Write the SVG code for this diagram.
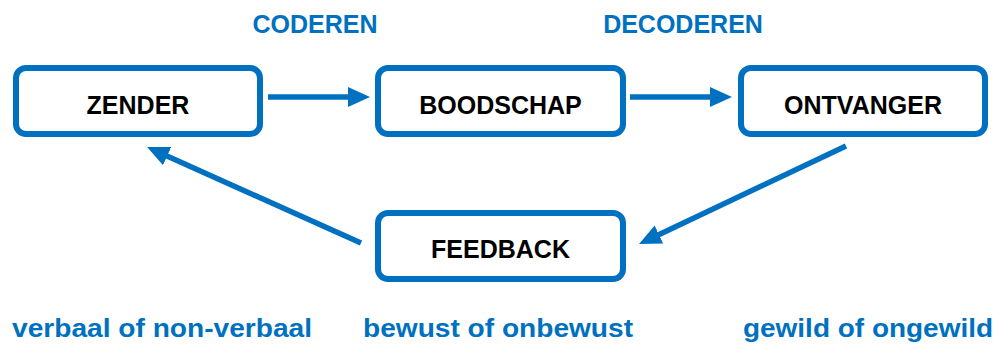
<svg xmlns="http://www.w3.org/2000/svg" width="997" height="345" viewBox="0 0 997 345">
<style>
.box{fill:#fff;stroke:#0070C0;stroke-width:6}
.nt{font-family:"Liberation Sans",Arial,sans-serif;font-weight:bold;font-size:25px;fill:#000;text-anchor:middle}
.lb{font-family:"Liberation Sans",Arial,sans-serif;font-weight:bold;font-size:25px;fill:#0070C0}
.cn{stroke:#0070C0;stroke-width:5.5;fill:none;marker-end:url(#ah)}
</style>
<defs>
<marker id="ah" markerUnits="userSpaceOnUse" markerWidth="24" markerHeight="22" refX="2" refY="11" orient="auto" viewBox="0 0 24 22">
<path d="M0,1 L22,11 L0,21 z" fill="#0070C0"/>
</marker>
</defs>
<rect width="997" height="345" fill="#fff"/>
<g id="connectors">
<line class="cn" x1="268" y1="97" x2="350" y2="97"/>
<line class="cn" x1="630" y1="97" x2="712" y2="97"/>
<line class="cn" x1="846" y1="146" x2="657.1" y2="235.4"/>
<line class="cn" x1="361" y1="243" x2="165.3" y2="155.2"/>
</g>
<g id="zender"><rect class="box" x="16" y="68" width="244" height="66" rx="10"/><text class="nt" x="138" y="114">ZENDER</text></g>
<g id="boodschap"><rect class="box" x="378" y="68" width="245" height="66" rx="10"/><text class="nt" x="500.5" y="114">BOODSCHAP</text></g>
<g id="ontvanger"><rect class="box" x="741" y="68" width="244" height="66" rx="10"/><text class="nt" x="863" y="114">ONTVANGER</text></g>
<g id="feedback"><rect class="box" x="378" y="213" width="245" height="66" rx="10"/><text class="nt" x="500.5" y="258">FEEDBACK</text></g>
<g id="labels">
<text class="lb" x="315" y="33" text-anchor="middle">CODEREN</text>
<text class="lb" x="683" y="33" text-anchor="middle">DECODEREN</text>
<text class="lb" x="12" y="337" font-size="24" textLength="300" lengthAdjust="spacingAndGlyphs">verbaal of non-verbaal</text>
<text class="lb" x="363" y="337" font-size="24" textLength="270" lengthAdjust="spacingAndGlyphs">bewust of onbewust</text>
<text class="lb" x="743" y="337" font-size="24" textLength="250" lengthAdjust="spacingAndGlyphs">gewild of ongewild</text>
</g>
</svg>
